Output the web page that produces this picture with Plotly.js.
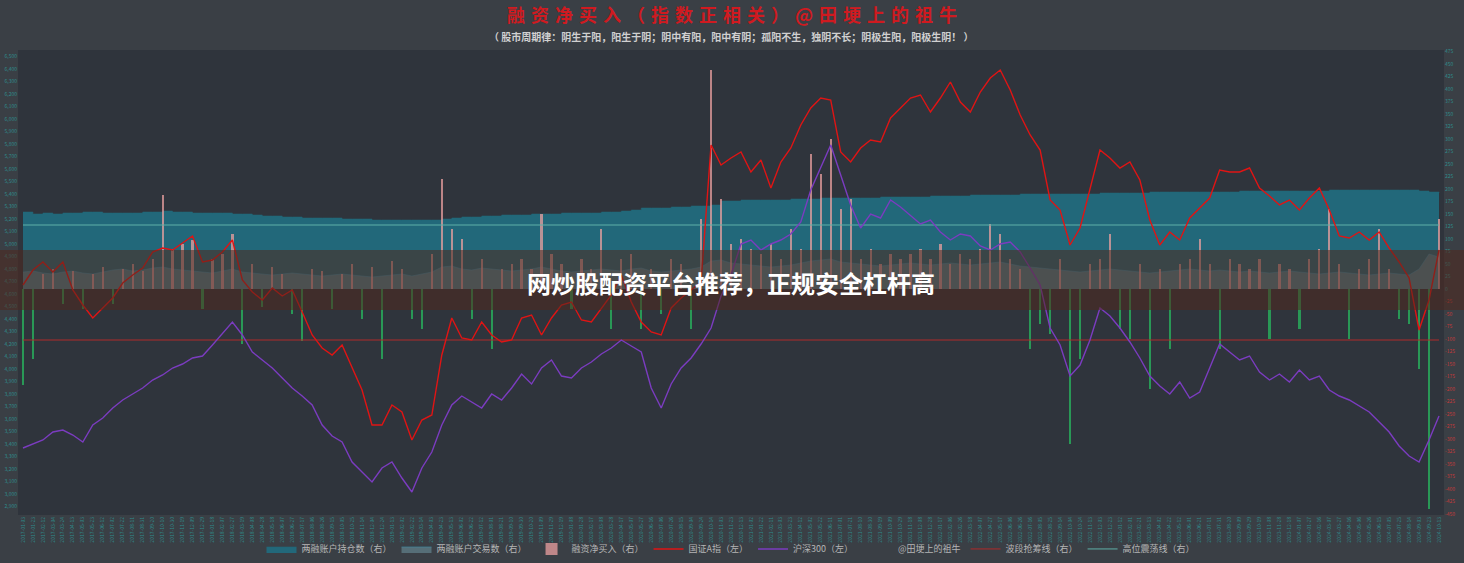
<!DOCTYPE html>
<html>
<head>
<meta charset="utf-8">
<script src="https://cdn.plot.ly/plotly-3.0.1.min.js"></script>
<style>
html,body{margin:0;padding:0;background:#3a3f45;}
#chart{width:1464px;height:563px;}
</style>
</head>
<body>
<div id="chart"></div>
<script>
// ---- data ----
const startDate = '2017-01-03';
const stepDays = 20;

// 国证A指 (left axis)
const guozhengA = [4670,4790,4854,4774,4854,4630,4510,4406,4486,4566,
4686,4750,4806,4934,4966,4950,5006,5062,4854,4870,
4934,5030,4710,4614,4550,4646,4582,4630,4454,4270,
4166,4110,4190,4006,3830,3550,3550,3710,3654,3430,
3590,3630,4110,4406,4246,4230,4374,4270,4214,4230,
4406,4430,4270,4406,4510,4534,4390,4374,4486,4590,
4750,4534,4374,4294,4270,4486,4566,4630,4694,5790,
5630,5686,5734,5574,5670,5446,5654,5766,5950,6086,
6166,6150,5734,5654,5766,5830,5814,6006,6086,6166,
6190,6054,6166,6294,6134,6054,6214,6326,6390,6230,
6030,5870,5750,5350,5270,4990,5126,5430,5750,5686,
5606,5654,5510,5190,4990,5094,5030,5206,5286,5366,
5590,5574,5574,5606,5446,5382,5310,5350,5270,5366,
5446,5270,5062,5046,5094,5030,5094,4966,4854,4726,
4310,4550,4950];

// 沪深300 (left axis)
const hs300 = [3366,3398,3430,3494,3510,3470,3414,3550,3606,3686,
3750,3798,3846,3910,3950,4006,4038,4086,4102,4190,
4286,4374,4270,4134,4070,4006,3926,3846,3782,3710,
3550,3462,3414,3254,3174,3094,3206,3254,3126,3014,
3206,3334,3550,3710,3782,3734,3686,3798,3750,3846,
3958,3878,4006,4070,3942,3926,4006,4054,4118,4166,
4230,4182,4134,3846,3686,3878,4006,4086,4198,4326,
4582,4750,4998,5030,4950,4998,5030,5078,5174,5430,
5606,5790,5550,5310,5126,5238,5206,5350,5294,5222,
5158,5190,5094,5030,5078,5062,4982,4950,4998,5014,
4934,4806,4670,4326,4190,3942,4030,4230,4486,4422,
4326,4214,4086,3942,3862,3798,3894,3766,3814,4006,
4198,4134,4070,4102,3974,3910,3958,3894,3990,3910,
3942,3830,3782,3750,3702,3654,3574,3494,3382,3302,
3254,3430,3622];

// 两融账户持仓数 (right axis)
const holdAccounts = [154,150,152,150,152,152,154,154,152,152,
152,152,154,154,156,154,154,152,152,152,
152,150,150,148,146,146,144,144,142,142,
142,142,140,140,140,138,138,138,138,138,
138,138,140,142,144,144,146,146,148,148,
148,150,150,150,152,152,152,152,154,154,
156,158,162,162,162,164,164,166,166,168,
176,176,178,178,178,178,178,180,180,180,
182,182,182,182,182,182,184,184,184,184,
184,186,186,186,186,188,188,188,188,188,
190,190,190,190,190,190,190,190,192,192,
192,192,192,194,194,194,194,194,194,194,
194,194,196,196,196,196,196,196,196,196,
196,198,198,198,198,198,198,198,198,198,
196,194,192];

// 两融账户交易数 (right axis)
const tradeAccounts = [34,36,32,30,34,36,32,30,34,38,
40,36,38,42,44,40,38,36,34,32,
36,40,34,32,30,28,30,32,30,28,
26,28,30,28,26,24,26,28,30,26,
30,34,44,46,40,38,42,40,38,36,
38,40,44,40,36,34,36,38,40,38,
36,40,42,36,34,36,38,40,44,56,
58,52,50,48,46,44,46,48,52,56,
58,60,54,52,50,48,46,48,50,52,
50,48,50,52,50,48,50,52,54,50,
46,44,42,40,38,36,34,36,38,40,
38,36,34,32,34,36,38,40,38,36,
38,36,34,36,34,32,34,36,34,32,
30,32,34,32,30,28,30,32,30,28,
40,70,64];

// 融资净买入 (right axis)
const netBuy = [-192,-140,30,40,-30,36,-40,30,44,-30,
40,50,36,60,188,80,90,98,-40,60,
70,110,-110,50,-36,44,30,-50,-104,40,
36,-40,30,50,-60,44,-140,56,40,-60,
-80,70,220,120,100,-60,60,-120,40,50,
60,40,150,70,50,-40,60,40,120,-80,
60,70,-80,40,-50,60,50,-80,140,438,
180,90,100,80,70,90,60,120,80,270,
230,300,160,180,60,80,50,70,60,70,
80,60,90,50,70,60,80,130,110,60,
40,-120,-70,-90,60,-310,-140,50,60,110,
-80,-100,50,-200,40,-120,50,60,100,50,
-120,60,50,40,60,-100,50,40,-80,60,
80,160,50,-100,40,60,120,40,-60,-70,
-160,-440,140];

// 波段抢筹线 / 高位震荡线 (right axis, constant levels)
const bandLine = [-102,-102];
const highLine = [128,128];

// tick label values
const leftTickStart = 2900, leftTickEnd = 6500, leftTickStep = 100;
const rightTickVals = [-450,-425,-400,-375,-350,-325,-300,-275,-250,-225,-200,-175,-150,-125,-100,-75,-50,-25,0,25,50,75,100,125,150,175,200,225,250,275,300,325,350,375,400,425,450,475];

// ---- build date categories ----
const n = guozhengA.length;
const dates = [];
{
  const d0 = new Date(startDate + 'T00:00:00Z');
  for (let i = 0; i < n; i++) {
    const d = new Date(d0.getTime() + i * stepDays * 86400000);
    dates.push(d.toISOString().slice(0, 10));
  }
}
const edgeDates = [dates[0], dates[n - 1]];
const netBuyPos = netBuy.map(v => v >= 0 ? v : null);
const netBuyNeg = netBuy.map(v => v < 0 ? v : null);

const rightTickText = rightTickVals.map(v =>
  v < 0 ? '<span style="fill:#c23a3a">' + v + '</span>' : '<span style="fill:#2f8c8c">' + v + '</span>');

const FONT = '"Noto Sans CJK SC", "Noto Sans", sans-serif';

const traces = [
  {type:'scatter', mode:'lines', x:dates, y:holdAccounts, name:'两融账户持仓数（右）',
   fill:'tozeroy', fillcolor:'#22687a', line:{color:'#22687a', width:0.5, shape:'hv'}, yaxis:'y', xaxis:'x'},
  {type:'scatter', mode:'lines', x:dates, y:tradeAccounts, name:'两融账户交易数（右）',
   fill:'tozeroy', fillcolor:'rgba(110,150,160,0.55)', line:{color:'#3b9bb8', width:0.5}, yaxis:'y', xaxis:'x'},
  {type:'bar', x:dates, y:netBuyPos, name:'融资净买入（右）', width:0.22,
   marker:{color:'rgba(236,160,160,0.75)', line:{width:0}}, yaxis:'y2', xaxis:'x'},
  {type:'bar', x:dates, y:netBuyNeg, name:'融资净买入（右）', width:0.22, showlegend:false,
   marker:{color:'rgba(40,170,90,0.85)', line:{width:0}}, yaxis:'y2', xaxis:'x'},
  {type:'scatter', mode:'lines', x:dates, y:guozhengA, name:'国证A指（左）',
   line:{color:'#e01414', width:1.4}, yaxis:'y3', xaxis:'x'},
  {type:'scatter', mode:'lines', x:dates, y:hs300, name:'沪深300（左）',
   line:{color:'#7b3cc0', width:1.4}, yaxis:'y3', xaxis:'x'},
  {type:'scatter', mode:'lines', x:[dates[0]], y:[null], name:'@田埂上的祖牛',
   line:{color:'rgba(0,0,0,0)', width:1}, yaxis:'y3', xaxis:'x'},
  {type:'scatter', mode:'lines', x:edgeDates, y:bandLine, name:'波段抢筹线（右）',
   line:{color:'#b02a2a', width:1}, yaxis:'y2', xaxis:'x'},
  {type:'scatter', mode:'lines', x:edgeDates, y:highLine, name:'高位震荡线（右）',
   line:{color:'#5fb0a8', width:1}, yaxis:'y2', xaxis:'x'}
];

const rightRange = [-452, 478];
const leftRange = [2830, 6550];
const leftTicks = [];
for (let v = leftTickStart; v <= leftTickEnd; v += leftTickStep) leftTicks.push(v);

const layout = {
  width:1464, height:563,
  paper_bgcolor:'#3a3f45', plot_bgcolor:'#2f343c',
  margin:{l:18, r:20, t:50, b:48, autoexpand:false},
  font:{family:FONT, color:'#b0b0b0'},
  title:{text:'<b>' + '融资净买入（指数正相关）@田埂上的祖牛'.split('').join('\u2004') + '</b>',
    font:{family:FONT, size:18, color:'#d01a20'}, x:0.5, xanchor:'center', y:0.973, yanchor:'middle'},
  showlegend:true,
  legend:{orientation:'h', x:0.5, xanchor:'center', y:-0.073, yanchor:'middle',
    font:{family:FONT, size:9, color:'#b5b5b5'}, bgcolor:'rgba(0,0,0,0)', itemwidth:30, traceorder:'normal'},
  barmode:'overlay',
  bargap:0,
  xaxis:{type:'category', tickangle:-90, tickfont:{size:5, color:'#2f8c8c'}, dtick:1,
    showgrid:false, zeroline:false, showline:false, ticks:'', automargin:false},
  yaxis:{side:'right', range:rightRange, tickvals:rightTickVals, ticktext:rightTickText,
    tickfont:{size:5}, showgrid:false, zeroline:false, ticks:'', automargin:false},
  yaxis2:{overlaying:'y', side:'right', range:rightRange, visible:false, showgrid:false, zeroline:false},
  yaxis3:{overlaying:'y', side:'left', range:leftRange, tickvals:leftTicks, tickformat:',d',
    tickfont:{size:5, color:'#2f8c8c'}, showgrid:false, zeroline:false, ticks:'', automargin:false},
  shapes:[
    {type:'rect', xref:'paper', yref:'paper', x0:-0.0127, x1:1.0141, y0:0.4409, y1:0.5699,
     fillcolor:'rgba(78,40,30,0.55)', line:{width:0}, layer:'above'}
  ],
  annotations:[
    {xref:'paper', yref:'paper', x:0.5, y:1.030, xanchor:'center', yanchor:'middle', showarrow:false,
     text:'<b>（ 股市周期律：阴生于阳，阳生于阴；阴中有阳，阳中有阴；孤阳不生，独阴不长；阴极生阳，阳极生阴！ ）</b>',
     font:{family:FONT, size:10, color:'#d0d0d0'}},
    {xref:'paper', yref:'paper', x:0.5, y:0.499, xanchor:'center', yanchor:'middle', showarrow:false,
     text:'<b>网炒股配资平台推荐，正规安全杠杆高</b>', font:{family:FONT, size:24, color:'#ffffff'}}
  ]
};

Plotly.newPlot('chart', traces, layout, {displayModeBar:false, staticPlot:true});
</script>
</body>
</html>
